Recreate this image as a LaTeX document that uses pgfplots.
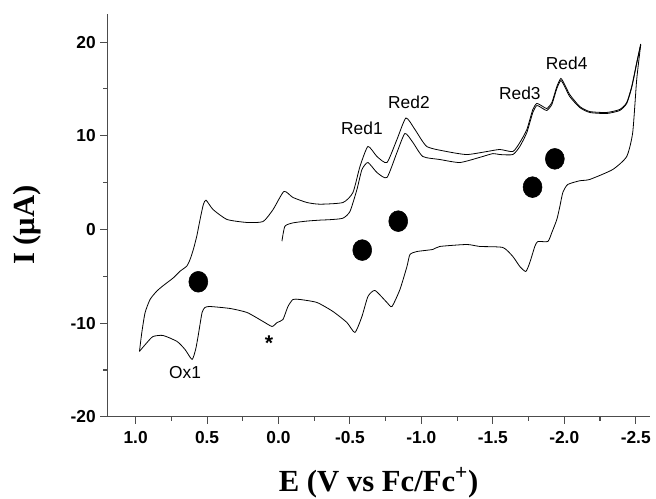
\documentclass[border=0pt]{standalone}
\usepackage{fontspec}
\setmainfont{Liberation Sans}
\newfontfamily\timesfont{Liberation Serif}
\usepackage{pgfplots}
\pgfplotsset{compat=1.18}

\begin{document}
\begin{tikzpicture}
\begin{axis}[
  scale only axis,
  width=407pt, height=302pt,
  x dir=reverse,
  xmin=-2.6, xmax=1.2, ymin=-20, ymax=23,
  axis lines=left,
  axis line style={-, draw=black!70, line width=0.8pt},
  xtick={-2.5,-2,-1.5,-1,-0.5,0,0.5,1},
  ytick={-20,-10,0,10,20},
  minor x tick num=1, minor y tick num=1,
  tick align=outside,
  major tick length=5pt, minor tick length=3pt,
  tick style={draw=black!70, line width=0.8pt},
  ticklabel style={font=\fontsize{13}{15}\selectfont\bfseries},
  /pgf/number format/assume math mode=true,
  xticklabel style={yshift=-2.5pt, /pgf/number format/.cd, fixed, fixed zerofill, precision=1},
  xlabel={E (V vs Fc/Fc\textsuperscript{+})},
  ylabel={I (μA)},
  label style={font=\timesfont\fontsize{23}{26}\selectfont\bfseries},
  xlabel style={at={(axis description cs:0.5,-0.164)}, anchor=center},
  ylabel style={at={(axis description cs:-0.147,0.476)}, anchor=center},
  clip=false,
]
% scan 1 forward
\addplot[black, line width=0.6pt, smooth, tension=0.35] coordinates {
(-0.024,-1.25) (-0.045,0.35) (-0.103,0.71) (-0.20,0.90) (-0.290,1.00) (-0.360,1.05)
(-0.450,1.20) (-0.500,1.92) (-0.549,4.27) (-0.584,6.40) (-0.626,7.15) (-0.689,6.08)
(-0.759,5.55) (-0.829,8.22) (-0.885,10.25) (-0.941,9.28) (-1.010,7.79) (-1.129,7.47)
(-1.269,7.15) (-1.409,7.70) (-1.500,8.10) (-1.549,8.00) (-1.640,8.00) (-1.689,8.86)
(-1.738,10.35) (-1.780,12.49) (-1.808,13.23) (-1.850,12.91) (-1.878,12.70) (-1.913,13.34)
(-1.948,15.05) (-1.976,15.90) (-2.003,15.26) (-2.038,14.19) (-2.108,13.02) (-2.178,12.49)
(-2.297,12.38) (-2.388,12.70) (-2.437,13.45) (-2.472,15.15) (-2.507,17.72) (-2.535,19.70)
};
% return scan
\addplot[black, line width=0.6pt, smooth, tension=0.35] coordinates {
(-2.535,19.70) (-2.507,16.01) (-2.479,10.35) (-2.437,7.79) (-2.339,6.40) (-2.178,5.34) (-2.108,5.20)
(-2.024,4.80) (-1.990,3.95) (-1.969,2.45) (-1.948,1.07) (-1.913,-0.32) (-1.885,-1.28)
(-1.815,-1.28) (-1.794,-1.81) (-1.759,-3.52) (-1.731,-4.48) (-1.689,-3.95) (-1.640,-2.88)
(-1.570,-1.92) (-1.409,-1.81) (-1.318,-1.60) (-1.129,-1.81) (-1.080,-2.13) (-0.969,-2.35)
(-0.920,-2.67) (-0.899,-3.95) (-0.850,-6.40) (-0.794,-8.22) (-0.759,-7.79) (-0.675,-6.51)
(-0.626,-7.15) (-0.584,-9.28) (-0.535,-10.99) (-0.479,-9.93) (-0.381,-8.75) (-0.269,-7.79)
(-0.150,-7.47) (-0.101,-7.47) (-0.066,-8.22) (-0.031,-9.61) (0.010,-9.93) (0.045,-10.35)
(0.108,-9.82) (0.220,-8.86) (0.339,-8.43) (0.479,-8.22) (0.514,-8.32) (0.535,-8.86)
(0.563,-11.42) (0.580,-12.80) (0.605,-13.87) (0.654,-12.81) (0.710,-11.95) (0.808,-11.31)
(0.878,-11.42) (0.920,-12.06) (0.973,-13.00)
};
% scan 2 forward
\addplot[black, line width=0.6pt, smooth, tension=0.35] coordinates {
(0.973,-13.00)
(0.957,-11.03) (0.934,-8.89) (0.899,-7.47) (0.852,-6.58) (0.806,-5.98) (0.736,-5.16)
(0.689,-4.45) (0.642,-3.91) (0.619,-3.20) (0.596,-2.13) (0.572,-0.71) (0.549,1.07)
(0.526,2.67) (0.507,3.13) (0.458,2.13) (0.360,1.07) (0.220,0.75) (0.108,0.85)
(0.038,2.13) (-0.038,4.06) (-0.101,3.42) (-0.199,2.88) (-0.290,2.70) (-0.451,2.88)
(-0.521,3.95) (-0.570,6.72) (-0.626,8.86) (-0.689,7.79) (-0.759,7.15) (-0.829,9.61)
(-0.892,11.90) (-0.955,10.67) (-1.038,8.86) (-1.178,8.32) (-1.318,8.00) (-1.458,8.32)
(-1.549,8.54) (-1.640,8.32) (-1.689,9.28) (-1.738,10.67) (-1.780,12.81) (-1.808,13.45)
(-1.850,13.13) (-1.878,12.91) (-1.913,13.55) (-1.948,15.26) (-1.976,16.12) (-2.003,15.47)
(-2.038,14.41) (-2.108,13.13) (-2.178,12.59) (-2.297,12.49) (-2.388,12.81) (-2.437,13.55)
(-2.472,15.26) (-2.507,17.82) (-2.535,19.80)
};
% filled dots
\addplot[only marks, mark=*, mark size=7.1pt, mark options={fill=black, draw=black, yscale=1.1}]
  coordinates {(0.561,-5.58) (-0.586,-2.20) (-0.838,0.89) (-1.778,4.52) (-1.934,7.54)};
% peak labels
\node[font=\fontsize{13}{15}\selectfont] at (axis cs:-0.584,10.78) {Red1};
\node[font=\fontsize{13}{15}\selectfont] at (axis cs:-0.913,13.55) {Red2};
\node[font=\fontsize{13}{15}\selectfont] at (axis cs:-1.689,14.51) {Red3};
\node[font=\fontsize{13}{15}\selectfont] at (axis cs:-2.017,17.72) {Red4};
\node[font=\fontsize{13}{15}\selectfont] at (axis cs:0.654,-15.26) {Ox1};
\node[font=\fontsize{16}{18}\selectfont\bfseries, anchor=base] at (axis cs:0.066,-12.9) {*};
\coordinate (bl) at (axis description cs:0,0);
\coordinate (tr) at (axis description cs:1,1);
\end{axis}
\pgfresetboundingbox
\path[use as bounding box] ([shift={(-80.25pt,-61.5pt)}]bl) rectangle ([shift={(4.5pt,10.5pt)}]tr);
\end{tikzpicture}
\end{document}
